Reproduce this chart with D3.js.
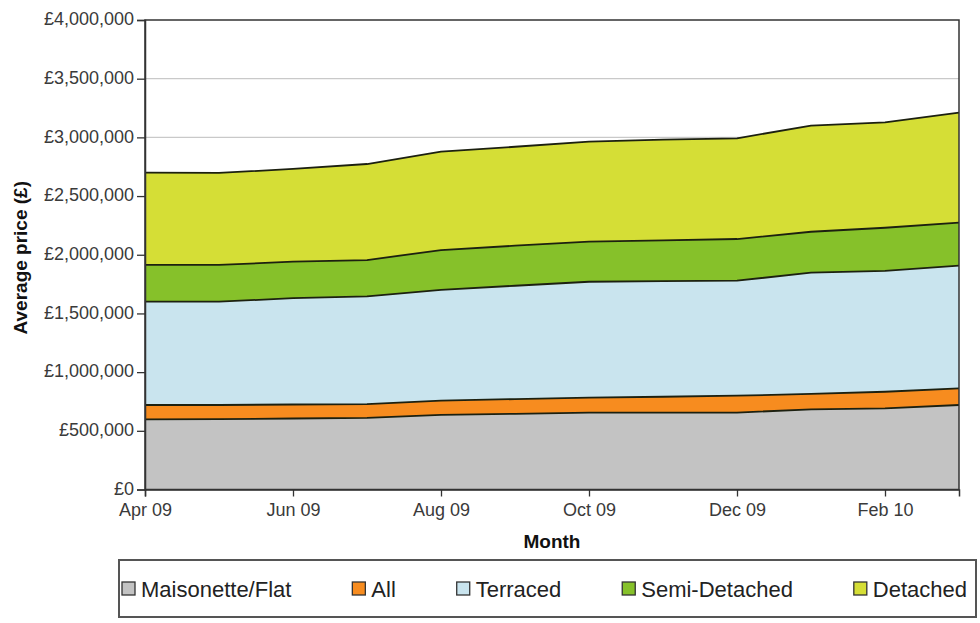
<!DOCTYPE html>
<html>
<head>
<meta charset="utf-8">
<script src="https://cdn.jsdelivr.net/npm/d3@7"></script>
<style>
  html, body { margin: 0; padding: 0; background: #ffffff; }
  svg { display: block; }
  text { font-family: "Liberation Sans", Arial, sans-serif; }
</style>
</head>
<body>
<svg id="chart" width="980" height="623"></svg>
<script>
// Months on the x axis
const months = ["Apr 09", "May 09", "Jun 09", "Jul 09", "Aug 09", "Sep 09",
                "Oct 09", "Nov 09", "Dec 09", "Jan 10", "Feb 10", "Mar 10"];

// Average price by property type (£), stacked in this order
const maisonetteFlat = [598000, 600000, 605000, 610000, 635000, 645000, 655000, 655000, 655000, 683000, 692000, 720000];
const allTypes       = [122000, 120000, 119000, 118000, 122000, 125000, 127000, 135000, 144000, 132000, 141000, 142000];
const terraced       = [880000, 880000, 906000, 917000, 943000, 966000, 988000, 986000, 980000, 1032000, 1029000, 1045000];
const semiDetached   = [313000, 313000, 311000, 310000, 340000, 341000, 341000, 346000, 355000, 349000, 368000, 366000];
const detached       = [786000, 784000, 790000, 818000, 838000, 843000, 852000, 858000, 858000, 904000, 898000, 937000];

const seriesNames = ["Maisonette/Flat", "All", "Terraced", "Semi-Detached", "Detached"];
const seriesValues = [maisonetteFlat, allTypes, terraced, semiDetached, detached];
const seriesColors = ["#c3c3c3", "#f78c1f", "#c9e4ee", "#86c12a", "#d5de36"];

// Axis ticks
const xTickLabels = ["Apr 09", "Jun 09", "Aug 09", "Oct 09", "Dec 09", "Feb 10"];
const yTickValues = [0, 500000, 1000000, 1500000, 2000000, 2500000, 3000000, 3500000, 4000000];

const svg = d3.select("#chart");
const plot = { left: 145, right: 959, top: 20, bottom: 489.5 };

const x = d3.scalePoint().domain(months).range([plot.left, plot.right]).padding(0);
const y = d3.scaleLinear().domain([0, 4000000]).range([plot.bottom, plot.top]);

// Rows for the stack layout
const rows = months.map((m, i) => {
  const r = { month: m };
  seriesNames.forEach((n, k) => { r[n] = seriesValues[k][i]; });
  return r;
});
const stacked = d3.stack().keys(seriesNames)(rows);

// Horizontal gridlines
svg.append("g")
  .selectAll("line")
  .data(yTickValues.filter(v => v > 0 && v < 4000000))
  .join("line")
  .attr("x1", plot.left).attr("x2", plot.right)
  .attr("y1", d => y(d)).attr("y2", d => y(d))
  .attr("stroke", "#c9c9c9").attr("stroke-width", 1.2);

// Stacked areas
const area = d3.area()
  .x(d => x(d.data.month))
  .y0(d => y(d[0]))
  .y1(d => y(d[1]));

svg.append("g")
  .selectAll("path")
  .data(stacked)
  .join("path")
  .attr("d", area)
  .attr("fill", (d, i) => seriesColors[i]);

// Outline along the top of each layer
const topLine = d3.line()
  .x(d => x(d.data.month))
  .y(d => y(d[1]));

svg.append("g")
  .selectAll("path")
  .data(stacked)
  .join("path")
  .attr("d", topLine)
  .attr("fill", "none")
  .attr("stroke", "#1c2010")
  .attr("stroke-width", 1.8)
  .attr("stroke-linejoin", "round");

// Plot frame
svg.append("rect")
  .attr("x", plot.left).attr("y", plot.top)
  .attr("width", plot.right - plot.left).attr("height", plot.bottom - plot.top)
  .attr("fill", "none").attr("stroke", "#333333").attr("stroke-width", 1.5);

// Y axis
const yAxis = d3.axisLeft(y)
  .tickValues(yTickValues)
  .tickSize(8)
  .tickPadding(3)
  .tickFormat(d => "£" + d3.format(",")(d));

const gy = svg.append("g")
  .attr("transform", `translate(${plot.left},0)`)
  .call(yAxis);
gy.select(".domain").attr("stroke", "#333333").attr("stroke-width", 1.5);
gy.selectAll(".tick line").attr("stroke", "#333333").attr("stroke-width", 1.3);
gy.selectAll(".tick text")
  .attr("fill", "#3a3a3a")
  .attr("dy", "0.26em")
  .style("font-size", "18px")
  .style("font-family", "\"Liberation Sans\", Arial, sans-serif");

// X axis
const xAxis = d3.axisBottom(x)
  .tickValues(xTickLabels)
  .tickSize(7)
  .tickPadding(5);

const gx = svg.append("g")
  .attr("transform", `translate(0,${plot.bottom})`)
  .call(xAxis);
gx.select(".domain").attr("stroke", "#333333").attr("stroke-width", 1.5);
gx.selectAll(".tick line").attr("stroke", "#333333").attr("stroke-width", 1.3);
gx.selectAll(".tick text")
  .attr("fill", "#3a3a3a")
  .attr("dy", "0.8em")
  .style("font-size", "18px")
  .style("font-family", "\"Liberation Sans\", Arial, sans-serif");

// Axis titles
svg.append("text")
  .attr("x", 552)
  .attr("y", 548)
  .attr("text-anchor", "middle")
  .attr("fill", "#111")
  .style("font-size", "19px")
  .style("font-weight", "bold")
  .text("Month");

svg.append("text")
  .attr("transform", `translate(27,${(plot.top + plot.bottom) / 2 + 3}) rotate(-90)`)
  .attr("text-anchor", "middle")
  .attr("fill", "#111")
  .style("font-size", "19px")
  .style("font-weight", "bold")
  .text("Average price (£)");

// Legend
const legendBox = { x: 119, y: 560, w: 857, h: 57 };
svg.append("rect")
  .attr("x", legendBox.x).attr("y", legendBox.y)
  .attr("width", legendBox.w).attr("height", legendBox.h)
  .attr("fill", "#ffffff").attr("stroke", "#555555").attr("stroke-width", 2);

const legend = svg.append("g");
const items = legend.selectAll("g")
  .data(seriesNames)
  .join("g");

const sq = 13, sqGap = 6;
items.append("rect")
  .attr("width", sq).attr("height", sq)
  .attr("y", legendBox.y + legendBox.h / 2 - sq / 2)
  .attr("fill", (d, i) => seriesColors[i])
  .attr("stroke", "#333333").attr("stroke-width", 1.3);

items.append("text")
  .attr("x", sq + sqGap)
  .attr("y", legendBox.y + legendBox.h / 2 + 8)
  .attr("fill", "#222")
  .style("font-size", "22px")
  .text(d => d);

// Spread legend entries across the box
const widths = items.nodes().map(n => sq + sqGap + n.querySelector("text").getComputedTextLength());
const inner = legendBox.w - 12;
const gap = (inner - d3.sum(widths)) / (widths.length - 1);
let cx = legendBox.x + 3;
items.each(function(d, i) {
  d3.select(this).attr("transform", `translate(${cx},0)`);
  cx += widths[i] + gap;
});
</script>
</body>
</html>
